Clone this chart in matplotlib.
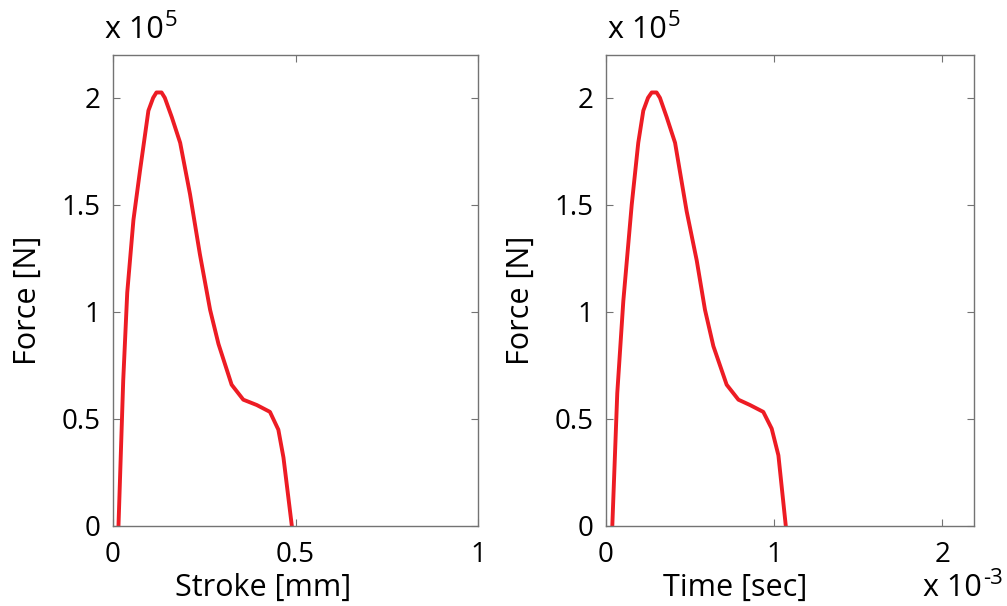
import numpy as np
import matplotlib as mpl
import matplotlib.pyplot as plt

# force curve vs stroke (mm) and vs time (x 1e-3 s); force in units of 1e5 N
stroke_mm = [0.015, 0.028, 0.039, 0.056, 0.074, 0.097, 0.110, 0.119, 0.133, 0.142,
             0.161, 0.184, 0.211, 0.238, 0.266, 0.289, 0.325, 0.357, 0.394, 0.430,
             0.453, 0.467, 0.490]
force_stroke = [0.0, 0.68, 1.09, 1.43, 1.66, 1.94, 2.0, 2.025, 2.025, 2.0,
                1.91, 1.79, 1.55, 1.27, 1.01, 0.85, 0.66, 0.59, 0.565, 0.533,
                0.45, 0.32, 0.0]

time_ms = [0.0375, 0.067, 0.103, 0.153, 0.192, 0.222, 0.250, 0.272, 0.301, 0.321,
           0.361, 0.411, 0.48, 0.54, 0.589, 0.639, 0.718, 0.788, 0.857, 0.936,
           0.986, 1.026, 1.07]
force_time = [0.0, 0.62, 1.05, 1.5, 1.79, 1.94, 2.0, 2.025, 2.025, 2.0,
              1.91, 1.79, 1.47, 1.24, 1.01, 0.84, 0.66, 0.59, 0.565, 0.533,
              0.455, 0.33, 0.0]

FONT = "Open Sans"
mpl.rcParams.update({"font.family": FONT})

RED = "#ED1C24"
SPINE = "0.45"
TICK_FS = 20
LABEL_FS = 22

fig = plt.figure(figsize=(10.07, 6.06), dpi=100)
W, H = 1007, 606


def make_ax(left_px, width_px, xs, ys, xlim, xticks, xticklabels, xlabel, xlab_x):
    ax = fig.add_axes([left_px / W, 80 / H, width_px / W, 471 / H])
    ax.plot(xs, ys, color=RED, linewidth=2.8, solid_joinstyle="round")
    ax.set_xlim(*xlim)
    ax.set_ylim(0, 2.2)
    ax.set_xticks(xticks)
    ax.set_xticklabels(xticklabels)
    ax.set_yticks([0, 0.5, 1, 1.5, 2])
    ax.set_yticklabels(["0", "0.5", "1", "1.5", "2"])
    ax.tick_params(direction="in", length=5, width=0.8, color=SPINE,
                   top=True, right=True, labelsize=TICK_FS)
    ax.tick_params(axis="y", pad=9)
    ax.tick_params(axis="x", pad=11)
    for s in ax.spines.values():
        s.set_color(SPINE)
        s.set_linewidth(1.0)
    ax.set_xlabel(xlabel, fontsize=LABEL_FS)
    ax.set_ylabel("Force [N]", fontsize=LABEL_FS)
    ax.xaxis.set_label_coords(xlab_x, -0.100)
    ax.yaxis.set_label_coords(-70 / width_px, 0.48)
    return ax


ax1 = make_ax(113, 365, stroke_mm, force_stroke, (0, 1), [0, 0.5, 1],
              ["0", "0.5", "1"], "Stroke [mm]", 0.411)
ax2 = make_ax(606, 368, time_ms, force_time, (0, 2.19), [0, 1, 2],
              ["0", "1", "2"], "Time [sec]", 0.35)


def sci_text(x_px, base_y_px, exp):
    # "x 10" with a raised exponent, placed in figure pixels
    t = fig.text(x_px / W, 1 - base_y_px / H, "x 10", fontsize=22,
                 ha="left", va="baseline")
    fig.canvas.draw()
    bb = t.get_window_extent()
    fig.text((bb.x1 + 1) / W, 1 - (base_y_px - 12) / H, exp, fontsize=16,
             ha="left", va="baseline")


sci_text(105, 38, "5")
sci_text(608, 38, "5")
sci_text(923, 596, "-3")

fig.savefig("out.png", dpi=100)
